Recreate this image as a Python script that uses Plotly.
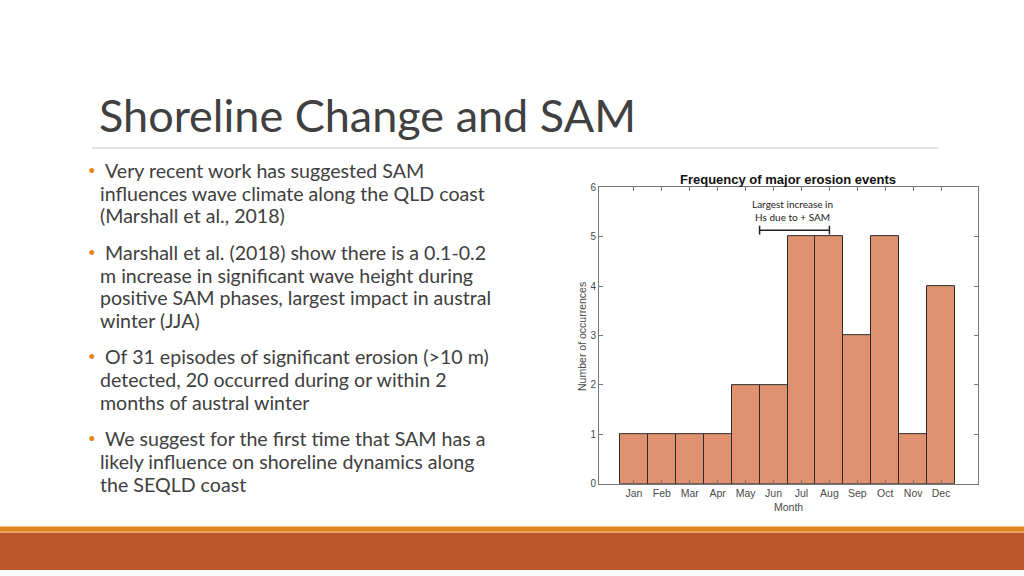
import plotly.graph_objects as go

# ---- data ----
months = ["Jan", "Feb", "Mar", "Apr", "May", "Jun", "Jul", "Aug", "Sep", "Oct", "Nov", "Dec"]
counts = [1, 1, 1, 1, 2, 2, 5, 5, 3, 5, 1, 4]
month_pos = list(range(1, 13))
sam_span = [5.5, 8.0]      # extent of "largest increase" marker (month units)
sam_level = 5.13           # height of marker (count units)

slide_title = "Shoreline Change and SAM"
chart_title = "Frequency of major erosion events"
bullets = [
    ["Very recent work has suggested SAM",
     "influences wave climate along the QLD coast",
     "(Marshall et al., 2018)"],
    ["Marshall et al. (2018) show there is a 0.1-0.2",
     "m increase in significant wave height during",
     "positive SAM phases, largest impact in austral",
     "winter (JJA)"],
    ["Of 31 episodes of significant erosion (>10 m)",
     "detected, 20 occurred during or within 2",
     "months of austral winter"],
    ["We suggest for the first time that SAM has a",
     "likely influence on shoreline dynamics along",
     "the SEQLD coast"],
]
bullet_line_y = [[168, 191, 214], [252, 275, 298, 321], [358, 381, 405], [442, 465, 489]]

W, H = 1024, 576
def px(x): return x / W
def py(y): return 1 - y / H

fig = go.Figure()
fig.add_trace(go.Bar(
    x=month_pos, y=counts, width=1.0,
    marker=dict(color="rgb(224,146,112)", line=dict(color="#2a2a2a", width=1)),
    showlegend=False, hoverinfo="skip",
))
fig.add_trace(go.Scatter(
    x=sam_span, y=[sam_level, sam_level], mode="lines",
    line=dict(color="#222", width=1.5),
    error_y=dict(type="constant", value=0.09, color="#222", thickness=1.5, width=0),
    showlegend=False, hoverinfo="skip",
))

axis_col = "#777777"
font_chart = "Liberation Sans, Arial, sans-serif"
tick_col = "#4a4a4a"
fig.update_layout(
    width=W, height=H, margin=dict(l=0, r=0, t=0, b=0),
    paper_bgcolor="white", plot_bgcolor="white",
    bargap=0,
    xaxis=dict(domain=[px(599), px(978)], range=[-0.25, 13.32],
               tickvals=month_pos, ticktext=months, ticks="inside", ticklen=4,
               tickcolor=axis_col, showline=True, linecolor=axis_col, linewidth=1,
               mirror="ticks", showgrid=False, zeroline=False,
               tickfont=dict(family=font_chart, size=10.5, color=tick_col)),
    yaxis=dict(domain=[py(488), py(185)], range=[0, 6], dtick=1,
               ticks="inside", ticklen=4, tickcolor=axis_col,
               showline=True, linecolor=axis_col, linewidth=1, mirror="ticks",
               showgrid=False, zeroline=False,
               tickfont=dict(family=font_chart, size=10, color=tick_col)),
)

ann = []
# chart texts
ann.append(dict(x=px(788), y=py(177), xref="paper", yref="paper", text="<b>" + chart_title + "</b>",
                showarrow=False, font=dict(family=font_chart, size=13, color="#111"),
                xanchor="center", yanchor="middle"))
ann.append(dict(x=px(788), y=py(512), xref="paper", yref="paper", text="Month",
                showarrow=False, font=dict(family=font_chart, size=10.5, color=tick_col),
                xanchor="center", yanchor="middle"))
ann.append(dict(x=px(582), y=py(338), xref="paper", yref="paper", text="Number of occurrences",
                textangle=-90, showarrow=False, font=dict(family=font_chart, size=10.5, color=tick_col),
                xanchor="center", yanchor="middle"))
ann.append(dict(x=6.69, y=5.53, xref="x", yref="y", text="Largest increase in<br>Hs due to + SAM",
                showarrow=False, font=dict(family="Lato, " + font_chart, size=10, color="#222"),
                xanchor="center", yanchor="middle"))

# slide title
ann.append(dict(x=px(97), y=py(111), xref="paper", yref="paper", text=slide_title,
                showarrow=False, font=dict(family="Lato, Open Sans, sans-serif", size=45, color="#404040"),
                xanchor="left", yanchor="middle"))

# bullets
body_font = dict(family="Lato, Open Sans, sans-serif", size=19.6, color="#404040")
for para, ys in zip(bullets, bullet_line_y):
    ann.append(dict(x=px(86), y=py(ys[0] - 1), xref="paper", yref="paper", text="•",
                    showarrow=False, font=dict(family="Lato, sans-serif", size=13, color="#E48312"),
                    xanchor="left", yanchor="middle"))
    for i, (line, y) in enumerate(zip(para, ys)):
        ann.append(dict(x=px(103 if i == 0 else 98), y=py(y), xref="paper", yref="paper", text=line,
                        showarrow=False, font=body_font, xanchor="left", yanchor="middle"))

fig.update_layout(annotations=ann)

shapes = [
    dict(type="line", xref="paper", yref="paper", x0=px(92), x1=px(938), y0=py(145), y1=py(145),
         line=dict(color="#D9D9D9", width=1.5)),
    dict(type="rect", xref="paper", yref="paper", x0=0, x1=1, y0=py(537), y1=py(531.5),
         fillcolor="#E2851F", line=dict(width=0)),
    dict(type="rect", xref="paper", yref="paper", x0=0, x1=1, y0=py(538), y1=py(537),
         fillcolor="#F2A65A", line=dict(width=0)),
    dict(type="rect", xref="paper", yref="paper", x0=0, x1=1, y0=0, y1=py(538),
         fillcolor="#BD582B", line=dict(width=0)),
]
fig.update_layout(shapes=shapes)

fig.write_html(
    "out.html",
    config={"displayModeBar": False},
    post_script=("document.body.style.margin='0';document.body.style.padding='0';"
                 "document.body.style.overflow='hidden';"
                 "document.documentElement.style.overflow='hidden';"),
)
